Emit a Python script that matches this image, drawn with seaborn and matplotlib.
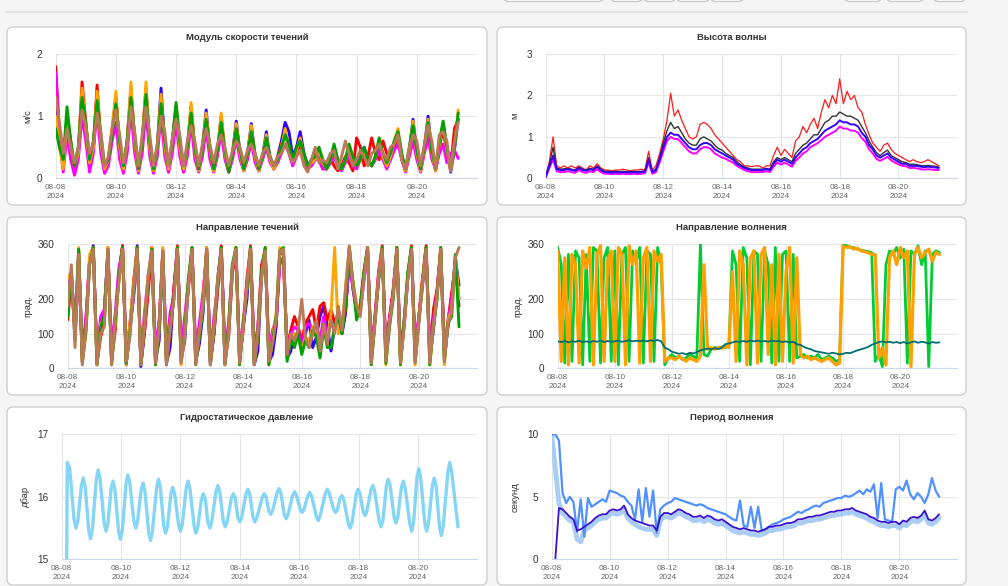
import numpy as np
import pandas as pd
import matplotlib
matplotlib.use('Agg')
import matplotlib.pyplot as plt
from matplotlib.patches import FancyBboxPatch
from matplotlib.transforms import IdentityTransform
from matplotlib.lines import Line2D
import seaborn as sns

sns.set_style("white")
plt.rcParams['font.family'] = ['Liberation Sans', 'DejaVu Sans']

#%% data (3-hourly samples from 2024-08-08 00:00, 8 values per day)

times = pd.date_range("2024-08-08 00:00", periods=108, freq="3h")

xticks = pd.date_range("2024-08-08", "2024-08-20", freq="2D")
xticklabels = [t.strftime("%m-%d") + "\n2024" for t in xticks]

# Модуль скорости течений, м/с
spd_blue = [1.3, 0.6, 0.2, 1.0, 0.5, 0.2, 0.4, 1.3,
            0.8, 0.2, 0.5, 1.3, 0.6, 0.1, 0.3, 0.7,
            1.3, 0.5, 0.15, 0.6, 1.45, 0.6, 0.12, 0.6,
            1.45, 0.5, 0.12, 0.5, 1.45, 0.55, 0.15, 0.6,
            1.15, 0.5, 0.15, 0.5, 1.15, 0.45, 0.12, 0.5,
            1.1, 0.45, 0.12, 0.45, 1.0, 0.4, 0.1, 0.4,
            0.92, 0.4, 0.12, 0.4, 0.88, 0.35, 0.12, 0.35,
            0.75, 0.3, 0.15, 0.35, 0.6, 0.9, 0.75, 0.35,
            0.5, 0.75, 0.4, 0.2, 0.25, 0.35, 0.4, 0.2,
            0.15, 0.25, 0.45, 0.3, 0.15, 0.3, 0.5, 0.3,
            0.2, 0.35, 0.5, 0.3, 0.2, 0.35, 0.6, 0.35,
            0.2, 0.35, 0.55, 0.75, 0.35, 0.12, 0.45, 0.95,
            0.4, 0.12, 0.5, 1.0, 0.4, 0.12, 0.5, 0.88,
            0.45, 0.1, 0.45, 0.95]
spd_red = [1.8, 0.7, 0.15, 1.0, 0.6, 0.15, 0.4, 1.55,
           0.9, 0.2, 0.5, 1.5, 0.6, 0.12, 0.3, 0.8,
           1.3, 0.5, 0.12, 0.6, 1.4, 0.6, 0.12, 0.55,
           1.4, 0.5, 0.12, 0.5, 1.3, 0.5, 0.1, 0.55,
           1.1, 0.45, 0.1, 0.45, 1.15, 0.4, 0.12, 0.45,
           1.0, 0.4, 0.12, 0.4, 0.95, 0.35, 0.12, 0.4,
           0.85, 0.35, 0.15, 0.4, 0.8, 0.3, 0.12, 0.35,
           0.65, 0.3, 0.2, 0.3, 0.55, 0.7, 0.5, 0.25,
           0.4, 0.55, 0.3, 0.15, 0.3, 0.45, 0.3, 0.15,
           0.2, 0.35, 0.2, 0.12, 0.2, 0.35, 0.25, 0.12,
           0.65, 0.5, 0.2, 0.35, 0.65, 0.4, 0.3, 0.6,
           0.4, 0.3, 0.5, 0.7, 0.3, 0.15, 0.4, 0.8,
           0.4, 0.15, 0.45, 0.85, 0.35, 0.15, 0.5, 0.8,
           0.4, 0.15, 0.8, 0.95]
spd_magenta = [1.7, 0.7, 0.1, 0.7, 0.3, 0.05, 0.3, 1.0,
               0.6, 0.1, 0.4, 1.1, 0.4, 0.08, 0.2, 0.6,
               0.9, 0.3, 0.08, 0.4, 1.1, 0.4, 0.08, 0.4,
               1.1, 0.35, 0.08, 0.35, 1.0, 0.35, 0.1, 0.4,
               0.9, 0.35, 0.1, 0.35, 0.9, 0.3, 0.1, 0.35,
               0.8, 0.3, 0.1, 0.35, 0.75, 0.3, 0.1, 0.3,
               0.65, 0.3, 0.12, 0.3, 0.6, 0.25, 0.12, 0.3,
               0.5, 0.25, 0.15, 0.25, 0.4, 0.55, 0.4, 0.2,
               0.35, 0.45, 0.3, 0.15, 0.2, 0.3, 0.3, 0.15,
               0.15, 0.25, 0.35, 0.2, 0.12, 0.25, 0.35, 0.2,
               0.15, 0.3, 0.4, 0.25, 0.2, 0.3, 0.45, 0.3,
               0.15, 0.3, 0.45, 0.55, 0.3, 0.1, 0.35, 0.6,
               0.3, 0.1, 0.4, 0.65, 0.3, 0.15, 0.4, 0.55,
               0.25, 0.4, 0.45, 0.32]
spd_orange = [1.0, 0.5, 0.15, 1.0, 0.5, 0.2, 0.4, 1.45,
              0.8, 0.25, 0.5, 1.4, 0.6, 0.15, 0.3, 0.8,
              1.4, 0.5, 0.15, 0.6, 1.55, 0.6, 0.12, 0.6,
              1.55, 0.5, 0.12, 0.5, 1.35, 0.5, 0.15, 0.6,
              1.15, 0.5, 0.15, 0.5, 1.22, 0.45, 0.12, 0.5,
              1.05, 0.45, 0.12, 0.45, 1.05, 0.4, 0.1, 0.4,
              0.88, 0.4, 0.12, 0.4, 0.85, 0.35, 0.12, 0.35,
              0.7, 0.3, 0.15, 0.3, 0.5, 0.8, 0.5, 0.3,
              0.45, 0.65, 0.35, 0.2, 0.25, 0.3, 0.45, 0.25,
              0.15, 0.3, 0.5, 0.25, 0.15, 0.3, 0.5, 0.3,
              0.2, 0.3, 0.45, 0.25, 0.2, 0.35, 0.65, 0.35,
              0.2, 0.35, 0.6, 0.8, 0.35, 0.12, 0.45, 0.92,
              0.4, 0.12, 0.5, 0.95, 0.4, 0.12, 0.55, 0.9,
              0.45, 0.12, 0.5, 1.1]
spd_green = [0.8, 0.5, 0.3, 1.15, 0.6, 0.2, 0.5, 1.3,
             0.9, 0.3, 0.6, 1.25, 0.7, 0.2, 0.3, 0.7,
             1.2, 0.6, 0.2, 0.6, 1.3, 0.7, 0.15, 0.6,
             1.35, 0.6, 0.15, 0.5, 1.2, 0.6, 0.2, 0.6,
             1.22, 0.6, 0.2, 0.5, 1.05, 0.5, 0.15, 0.5,
             0.95, 0.5, 0.15, 0.45, 0.9, 0.45, 0.1, 0.4,
             0.8, 0.45, 0.15, 0.4, 0.75, 0.4, 0.15, 0.35,
             0.65, 0.35, 0.2, 0.3, 0.5, 0.7, 0.55, 0.3,
             0.5, 0.6, 0.4, 0.2, 0.3, 0.35, 0.5, 0.3,
             0.15, 0.3, 0.55, 0.3, 0.15, 0.3, 0.55, 0.35,
             0.2, 0.3, 0.5, 0.3, 0.2, 0.35, 0.65, 0.4,
             0.25, 0.4, 0.6, 0.75, 0.4, 0.15, 0.5, 0.85,
             0.45, 0.15, 0.5, 0.9, 0.45, 0.15, 0.6, 0.92,
             0.5, 0.15, 0.5, 1.05]
spd_brown = [1.3, 0.9, 0.4, 0.8, 0.5, 0.25, 0.5, 1.1,
             0.85, 0.4, 0.55, 1.05, 0.75, 0.2, 0.35, 0.8,
             1.1, 0.7, 0.25, 0.55, 1.15, 0.75, 0.2, 0.7,
             1.15, 0.7, 0.2, 0.55, 1.0, 0.75, 0.2, 0.65,
             0.95, 0.7, 0.2, 0.6, 0.85, 0.6, 0.2, 0.55,
             0.8, 0.55, 0.25, 0.55, 0.7, 0.5, 0.2, 0.45,
             0.6, 0.5, 0.25, 0.45, 0.55, 0.4, 0.2, 0.4,
             0.5, 0.35, 0.2, 0.35, 0.4, 0.55, 0.4, 0.25,
             0.35, 0.45, 0.2, 0.1, 0.3, 0.5, 0.25, 0.3,
             0.25, 0.4, 0.45, 0.15, 0.35, 0.6, 0.4, 0.2,
             0.3, 0.45, 0.35, 0.2, 0.4, 0.45, 0.55, 0.4,
             0.3, 0.5, 0.55, 0.7, 0.3, 0.15, 0.5, 0.7,
             0.6, 0.2, 0.55, 0.85, 0.6, 0.15, 0.7, 0.75,
             0.6, 0.12, 0.6, 0.9]

# Высота волны, м
wh_red = [0.05, 0.4, 1.0, 0.3, 0.25, 0.3, 0.25, 0.3,
          0.25, 0.3, 0.25, 0.2, 0.3, 0.25, 0.35, 0.25,
          0.2, 0.2, 0.18, 0.2, 0.2, 0.22, 0.2, 0.18,
          0.2, 0.2, 0.22, 0.2, 0.65, 0.2, 0.3, 0.6,
          0.95, 1.4, 2.05, 1.5, 1.65, 1.4, 1.2, 1.0,
          0.95, 1.0, 1.3, 1.35, 1.3, 1.2, 1.05, 0.95,
          0.85, 0.75, 0.65, 0.55, 0.45, 0.4, 0.3, 0.3,
          0.28, 0.3, 0.3, 0.25, 0.3, 0.3, 0.55, 0.75,
          0.55, 0.7, 0.6, 0.5, 0.9, 1.0, 1.25, 1.1,
          1.3, 1.45, 1.2, 1.6, 1.9, 1.7, 2.0, 1.8,
          2.4, 1.8, 2.1, 1.9, 2.0, 1.7, 1.6, 1.3,
          1.05, 0.85, 0.75, 0.65, 0.8, 0.85, 0.7, 0.6,
          0.55, 0.5, 0.45, 0.4, 0.45, 0.4, 0.38, 0.4,
          0.45, 0.4, 0.35, 0.3]
wh_black = [0.04, 0.35, 0.75, 0.25, 0.22, 0.23, 0.24, 0.22,
            0.2, 0.27, 0.22, 0.2, 0.24, 0.22, 0.3, 0.22,
            0.17, 0.17, 0.16, 0.17, 0.16, 0.17, 0.16, 0.16,
            0.17, 0.16, 0.17, 0.18, 0.5, 0.17, 0.22, 0.5,
            0.85, 1.15, 1.35, 1.2, 1.25, 1.1, 0.95, 0.85,
            0.8, 0.8, 0.95, 1.0, 0.95, 0.9, 0.8, 0.72,
            0.68, 0.6, 0.55, 0.5, 0.4, 0.33, 0.28, 0.25,
            0.22, 0.22, 0.22, 0.22, 0.24, 0.22, 0.4, 0.5,
            0.45, 0.5, 0.45, 0.4, 0.6, 0.7, 0.8, 0.85,
            0.95, 1.05, 1.05, 1.2, 1.35, 1.4, 1.5, 1.5,
            1.6, 1.55, 1.5, 1.5, 1.45, 1.4, 1.25, 1.1,
            0.9, 0.75, 0.62, 0.55, 0.62, 0.68, 0.55, 0.5,
            0.45, 0.4, 0.38, 0.34, 0.34, 0.33, 0.31, 0.3,
            0.31, 0.3, 0.29, 0.27]
wh_magenta = [0.02, 0.25, 0.45, 0.17, 0.15, 0.15, 0.17, 0.15,
              0.13, 0.2, 0.15, 0.13, 0.17, 0.15, 0.22, 0.15,
              0.11, 0.11, 0.1, 0.11, 0.1, 0.11, 0.1, 0.1,
              0.11, 0.1, 0.11, 0.12, 0.38, 0.11, 0.15, 0.38,
              0.65, 0.9, 1.0, 0.95, 0.95, 0.85, 0.75, 0.65,
              0.6, 0.6, 0.7, 0.75, 0.75, 0.7, 0.6, 0.55,
              0.5, 0.47, 0.42, 0.38, 0.3, 0.25, 0.2, 0.17,
              0.15, 0.15, 0.15, 0.15, 0.17, 0.15, 0.28, 0.38,
              0.33, 0.38, 0.33, 0.28, 0.42, 0.5, 0.6, 0.65,
              0.75, 0.8, 0.85, 0.92, 1.0, 1.05, 1.1, 1.15,
              1.25, 1.2, 1.2, 1.15, 1.15, 1.1, 0.97, 0.88,
              0.7, 0.6, 0.47, 0.42, 0.47, 0.52, 0.43, 0.38,
              0.34, 0.3, 0.29, 0.25, 0.25, 0.24, 0.22, 0.21,
              0.22, 0.21, 0.2, 0.2]
wh_blue = [0.03, 0.3, 0.55, 0.22, 0.2, 0.2, 0.22, 0.2,
           0.18, 0.25, 0.2, 0.18, 0.22, 0.2, 0.28, 0.2,
           0.15, 0.15, 0.14, 0.15, 0.14, 0.15, 0.14, 0.14,
           0.15, 0.14, 0.15, 0.16, 0.45, 0.15, 0.2, 0.45,
           0.75, 1.0, 1.1, 1.05, 1.05, 0.95, 0.85, 0.75,
           0.7, 0.7, 0.8, 0.85, 0.85, 0.8, 0.7, 0.65,
           0.6, 0.55, 0.5, 0.45, 0.35, 0.3, 0.25, 0.22,
           0.2, 0.2, 0.2, 0.2, 0.22, 0.2, 0.35, 0.45,
           0.4, 0.45, 0.4, 0.35, 0.5, 0.6, 0.7, 0.75,
           0.85, 0.9, 0.95, 1.05, 1.15, 1.2, 1.25, 1.3,
           1.4, 1.35, 1.35, 1.3, 1.3, 1.25, 1.1, 1.0,
           0.8, 0.7, 0.55, 0.5, 0.55, 0.6, 0.5, 0.45,
           0.4, 0.35, 0.35, 0.3, 0.3, 0.3, 0.28, 0.27,
           0.28, 0.27, 0.26, 0.25]

# Направление течений, град.
dir_blue = [200, 270, 120, 340, 30, 130, 310, 355,
            20, 110, 160, 345, 25, 130, 270, 355,
            10, 110, 210, 355, 5, 110, 240, 350,
            20, 80, 345, 15, 60, 220, 350, 25,
            80, 240, 350, 20, 70, 160, 345, 10,
            100, 260, 350, 15, 110, 280, 340, 20,
            120, 200, 350, 10, 50, 270, 345, 20,
            40, 120, 330, 340, 30, 50, 100, 90,
            70, 100, 140, 60, 90, 150, 180, 120,
            50, 120, 140, 100, 160, 340, 230, 170,
            170, 270, 345, 20, 140, 260, 350, 30,
            140, 220, 345, 20, 130, 270, 350, 30,
            140, 250, 350, 30, 110, 220, 345, 30,
            120, 200, 320, 240]
dir_red = [140, 260, 100, 330, 20, 140, 320, 350,
           15, 90, 130, 350, 20, 110, 280, 355,
           20, 120, 250, 350, 15, 100, 220, 350,
           30, 130, 340, 20, 100, 230, 355, 40,
           120, 230, 345, 30, 120, 200, 350, 20,
           100, 220, 355, 25, 90, 270, 350, 30,
           110, 260, 355, 30, 120, 300, 340, 60,
           100, 130, 320, 300, 60, 110, 150, 120,
           80, 130, 150, 170, 110, 180, 190, 140,
           170, 130, 160, 120, 170, 320, 250, 160,
           180, 280, 350, 30, 150, 280, 355, 40,
           150, 230, 350, 30, 120, 260, 355, 40,
           150, 260, 355, 40, 170, 230, 350, 50,
           140, 220, 300, 180]
dir_magenta = [250, 280, 90, 300, 50, 150, 320, 340,
               40, 150, 170, 330, 60, 160, 290, 340,
               40, 130, 200, 340, 40, 160, 270, 340,
               50, 140, 320, 60, 160, 210, 340, 50,
               150, 250, 340, 60, 130, 220, 330, 40,
               150, 240, 345, 50, 130, 290, 340, 40,
               140, 240, 340, 50, 120, 260, 330, 50,
               110, 140, 300, 320, 50, 100, 120, 110,
               60, 120, 130, 110, 130, 80, 150, 100,
               130, 110, 170, 130, 180, 300, 230, 160,
               170, 250, 340, 50, 140, 270, 340, 60,
               140, 220, 340, 50, 140, 260, 340, 60,
               150, 240, 340, 60, 140, 220, 340, 50,
               140, 200, 310, 200]
dir_orange = [270, 250, 110, 350, 20, 100, 330, 350,
              10, 130, 140, 350, 15, 130, 250, 350,
              10, 130, 240, 350, 15, 140, 270, 350,
              10, 110, 350, 15, 130, 190, 350, 10,
              110, 250, 350, 15, 100, 190, 350, 10,
              120, 260, 345, 10, 110, 290, 350, 10,
              140, 230, 350, 10, 90, 270, 350, 10,
              90, 160, 350, 330, 30, 80, 100, 90,
              50, 90, 80, 120, 100, 50, 110, 80,
              160, 350, 100, 120, 240, 350, 250, 190,
              160, 270, 350, 10, 130, 260, 350, 10,
              130, 210, 350, 10, 130, 270, 350, 10,
              140, 250, 350, 10, 120, 210, 350, 10,
              140, 170, 330, 200]
dir_green = [150, 280, 80, 345, 15, 110, 300, 350,
             10, 120, 150, 340, 10, 140, 260, 350,
             15, 100, 220, 350, 10, 130, 250, 345,
             10, 110, 330, 10, 120, 200, 350, 20,
             100, 260, 350, 10, 90, 170, 340, 15,
             110, 250, 350, 10, 120, 300, 350, 10,
             130, 230, 350, 15, 100, 280, 350, 10,
             80, 150, 340, 350, 20, 90, 60, 100,
             40, 80, 60, 110, 90, 30, 120, 60,
             60, 120, 150, 100, 180, 350, 250, 140,
             180, 280, 350, 10, 130, 250, 350, 15,
             120, 200, 350, 10, 140, 280, 350, 20,
             130, 240, 350, 10, 120, 200, 350, 20,
             130, 150, 330, 120]
dir_brown = [180, 300, 60, 330, 10, 120, 300, 345,
             10, 100, 120, 345, 10, 150, 250, 345,
             20, 90, 230, 345, 10, 120, 260, 340,
             15, 120, 340, 10, 110, 200, 345, 15,
             90, 240, 345, 10, 100, 180, 345, 10,
             120, 250, 345, 10, 100, 290, 345, 15,
             120, 240, 345, 10, 110, 270, 340, 20,
             70, 140, 340, 345, 40, 100, 80, 110,
             200, 90, 60, 100, 140, 50, 130, 70,
             140, 100, 180, 110, 230, 355, 240, 180,
             150, 260, 350, 15, 130, 260, 345, 20,
             130, 210, 345, 15, 120, 260, 345, 15,
             130, 240, 345, 15, 120, 210, 345, 20,
             130, 160, 320, 350]

# Направление волнения, град.
wd_green = [350, 300, 15, 330, 20, 340, 320, 10,
            330, 20, 350, 340, 15, 320, 350, 20,
            340, 10, 330, 350, 20, 340, 310, 350,
            15, 340, 330, 20, 350, 300, 10, 30,
            40, 30, 35, 25, 30, 40, 35, 30,
            360, 40, 35, 55, 60, 58, 62, 60,
            70, 340, 300, 20, 350, 320, 10, 340,
            330, 20, 340, 300, 15, 350, 20, 330,
            340, 20, 330, 30, 35, 40, 30, 35,
            30, 40, 25, 30, 35, 30, 20, 25,
            360, 355, 350, 350, 345, 342, 340, 338,
            335, 20, 40, 5, 300, 340, 330, 350,
            320, 345, 15, 340, 330, 355, 300, 340,
            5, 330, 340, 335]
wd_orange = [340, 20, 320, 10, 330, 300, 15, 340,
             290, 350, 10, 330, 355, 20, 310, 340,
             20, 350, 330, 10, 355, 300, 340, 15,
             320, 350, 20, 340, 310, 330, 20, 30,
             30, 25, 35, 28, 20, 30, 25, 20,
             35, 300, 55, 60, 55, 60, 58, 65,
             60, 280, 20, 340, 300, 10, 320, 340,
             15, 330, 350, 40, 300, 10, 330, 20,
             280, 350, 15, 320, 40, 30, 35, 25,
             30, 25, 20, 25, 30, 20, 10, 15,
             355, 350, 352, 345, 348, 340, 338, 335,
             330, 330, 30, 60, 10, 320, 340, 300,
             350, 320, 340, 5, 330, 350, 320, 335,
             345, 310, 335, 330]
wd_teal = [78, 76, 79, 75, 78, 77, 80, 76,
           78, 75, 79, 77, 80, 76, 79, 77,
           78, 80, 77, 79, 81, 78, 80, 79,
           80, 78, 81, 79, 82, 78, 60, 55,
           48, 45, 42, 44, 40, 45, 43, 47,
           52, 55, 57, 55, 58, 56, 60, 70,
           72, 75, 78, 76, 79, 77, 80, 78,
           80, 78, 79, 77, 80, 78, 79, 76,
           78, 75, 77, 70, 68, 62, 58, 55,
           50, 48, 46, 44, 42, 45, 43, 40,
           42, 45, 44, 48, 52, 55, 58, 62,
           68, 72, 76, 78, 75, 77, 74, 76,
           73, 76, 72, 75, 78, 74, 77, 75,
           72, 76, 74, 75]

# Гидростатическое давление, дбар (hours from 08-08 00:00; each row: shoulder, extreme, shoulder)
prs_hours = [4, 4.5, 6.5,
             10, 11.5, 13,
             16, 17.5, 19,
             21.8, 23.3, 24.8,
             28, 29.5, 31,
             34.3, 35.8, 37.3,
             40, 41.5, 43,
             46, 47.5, 49,
             52, 53.5, 55,
             58.3, 59.8, 61.3,
             64.3, 65.8, 67.3,
             70.3, 71.8, 73.3,
             76.7, 78.2, 79.7,
             82.5, 84, 85.5,
             88.3, 89.8, 91.3,
             94.5, 96, 97.5,
             100.7, 102.2, 103.7,
             107, 108.5, 110,
             113, 114.5, 116,
             118.3, 119.8, 121.3,
             124.7, 126.2, 127.7,
             130.7, 132.2, 133.7,
             137.2, 138.7, 140.2,
             142.5, 144, 145.5,
             149, 150.5, 152,
             154.7, 156.2, 157.7,
             162.2, 163.7, 165.2,
             167.5, 169, 170.5,
             174.2, 175.7, 177.2,
             179.9, 181.4, 182.9,
             186.7, 188.2, 189.7,
             192.9, 194.4, 195.9,
             199.1, 200.6, 202.1,
             205.9, 207.4, 208.9,
             213.1, 214.6, 216.1,
             219.8, 221.3, 222.8,
             225.1, 226.6, 228.1,
             231.8, 233.3, 234.8,
             238, 239.5, 241,
             243.8, 245.3, 246.8,
             250, 251.5, 253,
             256.7, 258.2, 259.7,
             262.5, 264, 265.5,
             268.7, 270.2, 271.7,
             274.7, 276.2, 277.7,
             281.5, 283, 284.5,
             287.2, 288.7, 290.2,
             293.5, 295, 296.5,
             299.7, 301.2, 302.7,
             305.5, 307, 308.5,
             312.2, 313.7, 315.2,
             320.4]
prs_vals = [14.9, 16.55, 16.45,
            15.64, 15.5, 15.61,
            16.19, 16.3, 16.16,
            15.47, 15.33, 15.48,
            16.28, 16.43, 16.29,
            15.59, 15.45, 15.56,
            16.14, 16.25, 16.12,
            15.45, 15.32, 15.46,
            16.21, 16.35, 16.23,
            15.62, 15.5, 15.6,
            16.12, 16.22, 16.09,
            15.43, 15.3, 15.44,
            16.14, 16.28, 16.16,
            15.54, 15.42, 15.52,
            16.05, 16.15, 16.05,
            15.55, 15.45, 15.56,
            16.14, 16.25, 16.13,
            15.54, 15.42, 15.51,
            15.96, 16.05, 15.97,
            15.58, 15.5, 15.6,
            16.08, 16.18, 16.09,
            15.61, 15.52, 15.59,
            15.98, 16.05, 15.99,
            15.66, 15.6, 15.67,
            16.05, 16.12, 16.05,
            15.67, 15.6, 15.66,
            15.99, 16.05, 16.0,
            15.77, 15.72, 15.78,
            16.07, 16.13, 16.06,
            15.72, 15.65, 15.71,
            16.02, 16.08, 16.03,
            15.8, 15.75, 15.8,
            16.02, 16.07, 16.01,
            15.68, 15.62, 15.69,
            16.05, 16.12, 16.07,
            15.8, 15.75, 15.79,
            15.98, 16.02, 15.95,
            15.57, 15.5, 15.59,
            16.03, 16.12, 16.06,
            15.76, 15.7, 15.77,
            16.11, 16.18, 16.09,
            15.61, 15.52, 15.62,
            16.17, 16.28, 16.18,
            15.68, 15.58, 15.67,
            16.16, 16.25, 16.14,
            15.56, 15.45, 15.59,
            16.31, 16.45, 16.31,
            15.59, 15.45, 15.57,
            16.18, 16.3, 16.17,
            15.51, 15.38, 15.54,
            16.39, 16.55, 16.41,
            15.52]

# Период волнения, секунд
per_light = [10, 7.3, 4.5, 3.7, 3.4, 3.1, 3.0, 1.6,
             1.4, 2.3, 2.5, 2.7, 3.0, 3.2, 3.3, 3.3,
             3.6, 3.7, 3.6, 3.7, 4.0, 3.3, 3.0, 2.8,
             2.6, 2.5, 2.4, 2.4, 2.4, 1.9, 3.1, 3.4,
             3.4, 3.3, 3.5, 3.7, 3.6, 3.4, 3.3, 3.1,
             3.1, 3.2, 3.0, 3.2, 3.1, 2.9, 2.8, 2.9,
             2.7, 2.5, 2.3, 2.2, 2.1, 2.2, 2.1, 2.0,
             2.0, 1.9, 2.0, 2.1, 2.3, 2.3, 2.4, 2.4,
             2.5, 2.6, 2.6, 2.7, 2.9, 2.9, 3.0, 3.1,
             3.1, 3.2, 3.2, 3.3, 3.4, 3.5, 3.5, 3.6,
             3.6, 3.7, 3.7, 3.8, 3.6, 3.5, 3.4, 3.3,
             3.1, 3.0, 2.8, 2.7, 2.7, 2.6, 2.7, 2.7,
             2.5, 2.8, 2.7, 3.0, 3.1, 3.0, 3.2, 3.6,
             2.9, 2.8, 3.0, 3.3]
per_corn = [10, 10, 9.5, 5.3, 4.5, 5.0, 4.6, 2.2,
            4.8, 1.8, 4.9, 4.2, 4.4, 4.6, 4.8, 4.6,
            5.5, 5.4, 5.3, 5.1, 5.0, 4.6, 4.3, 3.2,
            5.6, 3.0, 5.7, 3.4, 5.5, 2.1, 4.0, 4.3,
            4.5, 4.6, 4.9, 4.8, 4.7, 4.6, 4.5, 4.4,
            4.3, 4.4, 4.3, 4.1, 4.0, 3.9, 3.8, 3.7,
            3.6, 3.4, 3.2, 3.1, 4.7, 2.7, 2.6, 4.2,
            2.5, 4.2, 2.3, 2.4, 2.6, 2.8, 2.9, 3.0,
            3.2, 3.3, 3.4, 3.6, 3.8, 3.7, 3.9, 4.0,
            4.2, 4.3, 4.2, 4.5, 4.6, 4.7, 4.8, 4.9,
            4.9, 5.1, 5.0, 5.1, 5.3, 5.5, 5.2, 5.6,
            5.4, 6.0, 3.3, 6.1, 3.2, 3.1, 3.0, 5.6,
            5.8, 5.5, 6.3, 5.2, 4.8, 5.3, 5.0, 4.5,
            5.2, 6.5, 5.5, 5.0]
per_dark = [np.nan, 0.0, 4.1, 4.0, 3.7, 3.4, 3.2, 2.3,
            2.4, 2.6, 2.8, 3.0, 3.3, 3.5, 3.6, 3.6,
            3.9, 4.0, 3.9, 4.0, 4.3, 3.6, 3.3, 3.1,
            3.0, 2.9, 2.8, 2.7, 2.7, 2.3, 3.4, 3.7,
            3.7, 3.6, 3.8, 4.0, 3.9, 3.7, 3.6, 3.4,
            3.4, 3.5, 3.3, 3.5, 3.4, 3.2, 3.1, 3.2,
            3.0, 2.8, 2.6, 2.5, 2.4, 2.5, 2.4, 2.3,
            2.3, 2.2, 2.3, 2.4, 2.6, 2.6, 2.7, 2.7,
            2.8, 2.9, 2.9, 3.0, 3.2, 3.2, 3.3, 3.4,
            3.4, 3.5, 3.5, 3.6, 3.7, 3.8, 3.8, 3.9,
            3.9, 4.0, 4.0, 4.1, 3.9, 3.8, 3.7, 3.6,
            3.4, 3.3, 3.1, 3.0, 3.0, 2.9, 3.0, 3.0,
            2.8, 3.1, 3.0, 3.3, 3.4, 3.3, 3.5, 3.9,
            3.2, 3.1, 3.3, 3.6]

#%% figure

W, H = 1008, 586
fig = plt.figure(figsize=(W / 100, H / 100), dpi=100, facecolor='#f5f5f5')

def card(l, t, r, b, ec='#cfcfcf'):
    p = FancyBboxPatch((l, H - b), r - l, b - t, boxstyle="round,pad=0,rounding_size=6",
                       transform=IdentityTransform(), fc='white', ec=ec, lw=1, zorder=-5)
    fig.add_artist(p)

# toolbar remains at the top
fig.add_artist(Line2D([6 / W, 967 / W], [1 - 11.7 / H] * 2, color='#e2e2e2', lw=1.5))
for l, r in [(503, 604), (610, 643), (643, 676), (676, 710), (710, 744), (844, 882), (886, 924), (933, 966)]:
    card(l, -10, r, 1.5, ec='#c8c8c8')

cards = [(7, 27, 487, 205), (497, 27, 966, 205),
         (7, 217, 487, 395), (497, 217, 966, 395),
         (7, 407, 487, 585), (497, 407, 966, 585)]
for c in cards:
    card(*c)

x0 = pd.Timestamp("2024-08-08")
x1 = pd.Timestamp("2024-08-22")

def panel(l, t, r, b, ylim, yticks, title, ylabel, ylab_x, card_box):
    ax = fig.add_axes([l / W, 1 - b / H, (r - l) / W, (b - t) / H])
    ax.set_facecolor('white')
    cx = (card_box[0] + card_box[2]) / 2
    fig.text(cx / W, 1 - (card_box[1] + 11) / H, title, ha='center', va='center',
             fontsize=6.8, fontweight='bold', color='#333333')
    fig.text(ylab_x / W, 1 - (t + b) / 2 / H, ylabel, rotation=90, ha='center', va='center',
             fontsize=6.8, color='#333333')
    ax._ylim = ylim
    ax._yticks = yticks
    return ax

def finish(ax):
    ax.set_xlim(x0, x1)
    ax.set_ylim(*ax._ylim)
    ax.set_yticks(ax._yticks)
    ax.set_yticklabels([str(v) for v in ax._yticks])
    ax.set_xticks(xticks)
    ax.set_xticklabels(xticklabels)
    ax.set_xlabel('')
    ax.set_ylabel('')
    ax.grid(True, color='#e6e6e6', lw=0.8)
    ax.set_axisbelow(True)
    for s in ['top', 'right', 'left']:
        ax.spines[s].set_visible(False)
    ax.spines['bottom'].set_color('#ccd6eb')
    ax.spines['bottom'].set_linewidth(0.8)
    ax.tick_params(axis='y', length=0, pad=9.5, labelsize=7.2, labelcolor='#333333')
    ax.tick_params(axis='x', length=2.2, width=0.8, color='#ccd6eb', pad=2.2,
                   labelsize=5.9, labelcolor='#666666')
    for lab in ax.get_xticklabels():
        lab.set_linespacing(1.25)

def line(ax, x, y, color, lw):
    sns.lineplot(x=x, y=y, color=color, linewidth=lw, ax=ax, estimator=None, sort=False,
                 legend=False, solid_joinstyle='round')

# 1. current speed
ax1 = panel(55.7, 54, 477, 178.3, (0, 2), [0, 1, 2], "Модуль скорости течений", "м/с", 28.3, cards[0])
for y, c in [(spd_blue, '#3300ff'), (spd_red, '#ff0000'), (spd_magenta, '#ff00ff'),
             (spd_orange, '#ffa500'), (spd_green, '#00a000'), (spd_brown, '#b97a57')]:
    line(ax1, times, y, c, 2.1)
finish(ax1)

# 2. wave height
ax2 = panel(545.7, 54, 957.3, 178.3, (0, 3), [0, 1, 2, 3], "Высота волны", "м", 515, cards[1])
for y, c, lw in [(wh_red, '#ff1a1a', 0.9), (wh_black, '#333333', 1.0),
                 (wh_magenta, '#ff00ff', 1.4), (wh_blue, '#3300ff', 1.4)]:
    line(ax2, times, y, c, lw)
finish(ax2)

# 3. current direction
ax3 = panel(67.7, 244, 477.3, 368.3, (0, 360), [0, 100, 200, 360], "Направление течений", "град.", 28.3, cards[2])
for y, c in [(dir_blue, '#3300ff'), (dir_red, '#ff0000'), (dir_magenta, '#ff00ff'),
             (dir_orange, '#ffa500'), (dir_green, '#00a000'), (dir_brown, '#b97a57')]:
    line(ax3, times, y, c, 2.1)
finish(ax3)

# 4. wave direction
ax4 = panel(557.7, 244, 957.3, 368.3, (0, 360), [0, 100, 200, 360], "Направление волнения", "град.", 518.3, cards[3])
line(ax4, times, wd_green, '#00cc33', 2.0)
line(ax4, times, wd_orange, '#ffa000', 2.3)
line(ax4, times, wd_teal, '#006e6e', 1.3)
finish(ax4)

# 5. pressure
ax5 = panel(61.7, 434.3, 477.3, 559.3, (15, 17), [15, 16, 17], "Гидростатическое давление", "дбар", 25, cards[4])
prs_times = x0 + pd.to_timedelta(prs_hours, unit='h')
line(ax5, prs_times, prs_vals, '#85d5f5', 2.4)
finish(ax5)

# 6. wave period
ax6 = panel(551.7, 434.3, 957.3, 559.3, (0, 10), [0, 5, 10], "Период волнения", "секунд", 515, cards[5])
line(ax6, times, per_light, '#a9cdf5', 3.5)
line(ax6, times, per_corn, '#5090ff', 1.6)
line(ax6, times, per_dark, '#3a10d0', 1.3)
finish(ax6)

fig.savefig("out.png", dpi=100, facecolor=fig.get_facecolor())
